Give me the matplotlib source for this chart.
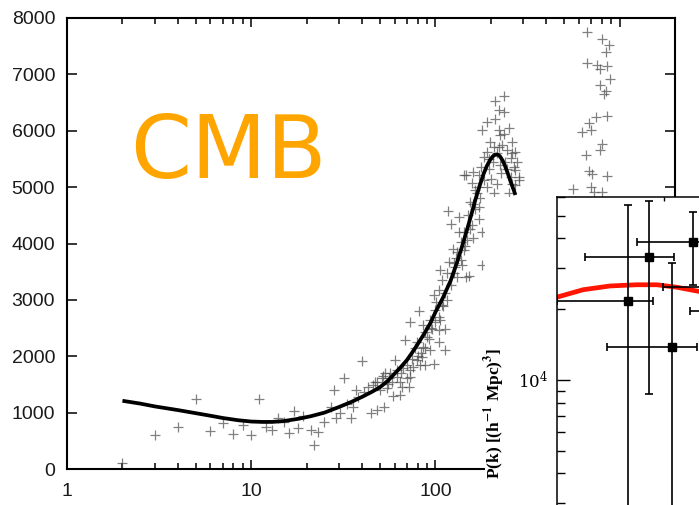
import matplotlib
matplotlib.use("Agg")
import matplotlib.pyplot as plt
import numpy as np
from matplotlib.patches import Rectangle
from matplotlib.ticker import FixedLocator, NullLocator, FixedFormatter, LogLocator

plt.rcParams['mathtext.fontset'] = 'stix'

# ---------------- main CMB data (multipole l, power) ----------------
cmb_l = [2, 3, 4, 5, 6, 7, 8, 9, 10, 11, 12, 13, 14, 15, 16, 17, 18, 19, 21, 22, 23, 25, 27, 28, 29,
         30.5, 32, 33, 35, 35.5, 37, 38, 40, 41, 43, 45, 47, 48, 52, 52.5, 56,
         82, 73, 68, 60, 59, 53.5, 48, 64, 66, 73, 76, 79.5, 85, 88, 98, 94, 86, 79.5, 104, 113, 104,
         96, 88, 86, 93, 113, 106, 100, 101, 108, 98, 104, 113, 108, 121, 116, 126, 106, 128, 73, 67,
         70, 62, 57, 51, 54.6, 46, 50, 64.5, 71.6, 83, 88,
         117, 121, 134, 146, 158, 155, 165, 172, 179, 158, 143, 149, 137, 131, 143, 118, 126, 140, 179,
         131, 152, 169, 183,
         235, 212, 221, 235, 191, 179, 221, 250, 225, 199, 261, 207, 245, 272, 191, 221, 183, 256, 278,
         176, 195, 245, 272, 143, 172, 256, 161, 284, 284, 272, 207, 172, 147,
         205, 215, 230, 240, 228, 200, 190, 215, 262, 250, 235, 210, 195, 225, 260, 268,
         125, 135, 150, 160, 170, 155, 145, 165, 175, 130, 138, 160,
         75, 80, 90, 95, 100, 110, 115, 105, 92, 84, 78, 70, 65, 62, 58, 55,
         667, 798, 875, 847, 667, 750, 782, 855, 886, 782, 822, 847, 741, 855, 681, 627, 696, 805,
         654, 782, 681, 711, 850, 557, 696, 725, 805]
cmb_power = [110, 600, 740, 1250, 675, 810, 620, 780, 600, 1250, 750, 690, 900, 840, 630, 1030, 720, 940,
             700, 425, 650, 840, 1100, 1400, 900, 990, 1610, 1160, 900, 1100, 1400, 1280, 1920, 1370,
             1460, 990, 1550, 1050, 1650, 1100, 1610,
             2810, 2610, 2290, 1930, 1290, 1700, 1550, 1550, 1460, 1640, 1810, 1930, 1990, 1840, 1870,
             2110, 2170, 2260, 2260, 2110, 2460, 2490, 2430, 2550, 2640, 2490, 2640, 2820, 2970, 2910,
             3090, 3170, 3120, 3350, 3260, 3470, 3470, 3530, 3590, 1755, 1790, 1610, 1640, 1700, 1610,
             1430, 1490, 1400, 1310, 1460, 1840, 2140,
             4580, 4340, 4470, 5210, 5070, 4740, 4620, 4440, 4210, 4330, 4210, 4060, 4030, 3850, 3880,
             3680, 3650, 3620, 3620, 3410, 3420, 4890, 5120,
             6610, 6530, 6370, 6340, 6160, 6010, 6010, 6040, 5920, 5800, 5800, 5710, 5660, 5630, 5630,
             5710, 5540, 5510, 5450, 5360, 5330, 5330, 5300, 5210, 5210, 5180, 5270, 5180, 5120, 5040,
             4890, 4650, 3410,
             5450, 5600, 5750, 5450, 5250, 5150, 5000, 5050, 5050, 4900, 5950, 6200, 5500, 5400, 5600, 5350,
             3900, 4200, 4500, 4700, 5000, 4250, 3950, 4950, 4800, 3750, 3700, 4100,
             1950, 2000, 2350, 2500, 2600, 2900, 3000, 2700, 2300, 2050, 2150, 1850, 1700, 1750, 1550, 1500,
             7750, 7620, 7520, 7400, 7200, 7160, 7090, 7150, 6910, 6810, 6660, 6710, 6250, 6260, 6130,
             5980, 6010, 5770, 5570, 5660, 5290, 5240, 5200, 4960, 5010, 4920, 4920]

# model curve
model_l = [2, 2.5, 3, 4, 5, 6, 7, 8.5, 10, 11.5, 13, 15, 18, 21, 25, 30, 35, 40, 45, 50, 55, 60, 65,
           70, 75, 80, 87, 94, 100, 110, 121, 130, 140, 149, 157, 165, 175, 183, 190, 198, 205, 210,
           215, 220, 225, 232, 238, 245, 250, 256, 262, 267, 272]
model_power = [1210, 1160, 1110, 1045, 990, 945, 905, 865, 842, 835, 835, 850, 890, 935, 1000, 1100,
               1190, 1280, 1365, 1450, 1560, 1690, 1810, 1930, 2070, 2210, 2400, 2590, 2780, 3040,
               3340, 3630, 3960, 4260, 4520, 4780, 5050, 5240, 5370, 5480, 5545, 5570, 5580, 5570,
               5540, 5470, 5390, 5280, 5200, 5100, 5010, 4940, 4860]

x_ticks = [1, 10, 100, 1000]
x_tick_labels = ["1", "10", "100", "1000"]
y_ticks = [0, 1000, 2000, 3000, 4000, 5000, 6000, 7000, 8000]

# ---------------- inset P(k) data ----------------
pk_k = [0.0461, 0.0724, 0.119, 0.187, 0.306, 0.35]
pk_k_lo = [0.01, 0.0183, 0.0293, 0.056, 0.175, 0.098]
pk_k_hi = [0.079, 0.124, 0.204, 0.32, 0.55, 0.6]
pk_P = [21700, 33400, 13800, 38700, 19700, 24800]
pk_P_lo = [500, 8720, 500, 25400, 12000, 15000]
pk_P_hi = [55500, 57800, 31500, 51900, 30000, 35000]

curve_k = [0.01, 0.0176, 0.0313, 0.0555, 0.0856, 0.131, 0.212, 0.3]
curve_P = [22500, 24200, 25100, 25400, 25400, 24800, 23800, 23000]

W, H = 699, 505
fig = plt.figure(figsize=(W / 100, H / 100), dpi=100)

# main axes
L, R, T, B = 67, 675, 18, 469
ax = fig.add_axes([L / W, 1 - B / H, (R - L) / W, (B - T) / H])
ax.set_xscale('log')
ax.plot(cmb_l, cmb_power, '+', color='#4a4a4a', alpha=0.7, ms=6.8, mew=0.9, zorder=2)
ax.plot(model_l, model_power, '-', color='black', lw=2.7, zorder=3,
        solid_capstyle='butt', solid_joinstyle='round')
ax.set_xlim(1, 2000)
ax.set_ylim(0, 8000)
ax.xaxis.set_major_locator(FixedLocator(x_ticks))
ax.xaxis.set_major_formatter(FixedFormatter(x_tick_labels))
ax.xaxis.set_minor_locator(LogLocator(base=10, subs=np.arange(2, 10)))
ax.yaxis.set_major_locator(FixedLocator(y_ticks))
for s in ax.spines.values():
    s.set_linewidth(1.5)
ax.tick_params(which='both', direction='in', top=True, right=True, width=1.1, colors='black',
               labelcolor='#1a1a1a', labelsize=14)
ax.tick_params(axis='y', which='major', length=7.5, pad=8.5)
ax.tick_params(axis='x', which='major', length=6.5, pad=10)
ax.tick_params(axis='x', which='minor', length=4)
for lab in ax.get_xticklabels() + ax.get_yticklabels():
    lab.set_family(['Liberation Sans', 'DejaVu Sans'])

# white cover for inset image
fig.patches.append(Rectangle((485 / W, 0), 1, 1 - 197 / H, transform=fig.transFigure,
                             facecolor='white', edgecolor='none', zorder=3))

# inset axes
iL, iT, iB, iR = 557, 197, 615, 800
ax2 = fig.add_axes([iL / W, 1 - iB / H, (iR - iL) / W, (iB - iT) / H])
ax2.set_zorder(4)
ax2.set_xscale('log')
ax2.set_yscale('log')
ax2.plot(curve_k, curve_P, '-', color='#ff1500', lw=3.4, zorder=2)
kk = np.array(pk_k); PP = np.array(pk_P)
ax2.errorbar(kk, PP,
             xerr=[kk - np.array(pk_k_lo), np.array(pk_k_hi) - kk],
             yerr=[PP - np.array(pk_P_lo), np.array(pk_P_hi) - PP],
             fmt='s', color='black', ms=5.5, capsize=3, elinewidth=1.2, capthick=1.2, zorder=3)
ax2.set_xlim(0.01, 1.87)
ax2.set_ylim(1000, 6e4)
ax2.xaxis.set_major_locator(FixedLocator([0.1, 1.0]))
ax2.xaxis.set_minor_locator(NullLocator())
ax2.yaxis.set_major_locator(FixedLocator([1e4]))
ax2.yaxis.set_minor_locator(LogLocator(base=10, subs=np.arange(1, 10)))
for s in ax2.spines.values():
    s.set_linewidth(1.1)
ax2.tick_params(which='both', direction='in', top=True, right=True, width=1.0, labelbottom=False)
ax2.tick_params(axis='y', which='major', length=9.5, pad=6.5, labelsize=12)
ax2.tick_params(axis='y', which='minor', length=5.5, labelleft=False)
ax2.tick_params(axis='x', which='major', length=3)
for lab in ax2.get_yticklabels():
    lab.set_family('serif')

fig.text(495 / W, 1 - 413 / H, r"P(k) [(h$^{\mathbf{-1}}$ Mpc)$^{\mathbf{3}}$]", rotation=90,
         ha='center', va='center', fontsize=12.5, fontweight='bold',
         family=['Liberation Serif', 'DejaVu Serif'], zorder=5)

fig.text(130 / W, 1 - 178 / H, "CMB", fontsize=63, color='#FFA500', ha='left', va='baseline',
         family='DejaVu Sans', zorder=5)

fig.savefig("out.png", dpi=100)
